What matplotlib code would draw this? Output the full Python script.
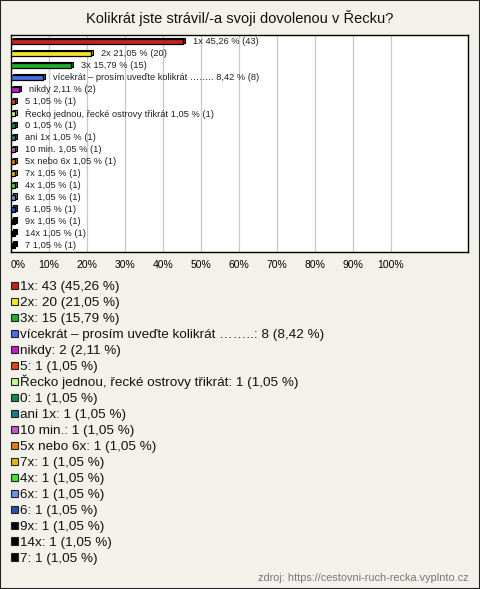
import matplotlib.pyplot as plt
from matplotlib.colors import to_rgb

labels = ['1x', '2x', '3x', 'vícekrát – prosím uveďte kolikrát ……..', 'nikdy', '5',
          'Řecko jednou, řecké ostrovy třikrát', '0', 'ani 1x', '10 min.', '5x nebo 6x',
          '7x', '4x', '6x', '6', '9x', '14x', '7']
counts = [43, 20, 15, 8, 2, 1, 1, 1, 1, 1, 1, 1, 1, 1, 1, 1, 1, 1]
percents = [45.26, 21.05, 15.79, 8.42, 2.11, 1.05, 1.05, 1.05, 1.05, 1.05, 1.05,
            1.05, 1.05, 1.05, 1.05, 1.05, 1.05, 1.05]
colors = ['#c0261a', '#f5e62c', '#1fae2a', '#4a6ee2', '#c41ccc', '#e2420e',
          '#c8f58a', '#118a52', '#1f7a8c', '#c25cc4', '#e57a10', '#e6b414',
          '#44e232', '#6a95e2', '#2452b4', '#000000', '#000000', '#000000']
xticks = [0, 10, 20, 30, 40, 50, 60, 70, 80, 90, 100]

bg = '#f3f2ea'
plt.rcParams['font.family'] = ['Liberation Sans', 'DejaVu Sans']

fig = plt.figure(figsize=(4.8, 5.89), dpi=100, facecolor=bg)
fig.patches.append(plt.Rectangle((0, 0), 1, 1, transform=fig.transFigure,
                                 fill=False, edgecolor='#222222', linewidth=1.5))

W, H = 480, 589
ax = fig.add_axes([11 / W, 1 - 252 / H, (468 - 11) / W, (252 - 35) / H])
ax.set_facecolor('white')
n = len(labels)
ys = list(range(n))


def darker(c, f=0.7):
    r, g, b = to_rgb(c)
    return (r * f, g * f, b * f)


def pct(p):
    return f'{p:.2f}'.replace('.', ',')


# back face (3D depth) then front face
ax.barh([y - 0.12 for y in ys], percents, left=0.5, height=0.42,
        color=[darker(c) for c in colors], edgecolor='black', linewidth=0.8, zorder=2)
ax.barh(ys, percents, height=0.42, color=colors, edgecolor='black',
        linewidth=0.9, zorder=3)

for y, lab, p, c in zip(ys, labels, percents, counts):
    ax.text(p + 2.6, y, f'{lab} {pct(p)} % ({c})',
            va='center', ha='left', fontsize=6.7, color='#222222', zorder=4)

ax.set_xlim(0, 120.3)
ax.set_ylim(n - 0.45, -0.55)
ax.set_xticks(xticks)
ax.set_xticklabels([f'{t}%' for t in xticks], fontsize=7.5)
ax.get_xticklabels()[0].set_horizontalalignment('left')
ax.set_yticks([])
ax.tick_params(axis='x', length=0, pad=6)
ax.grid(axis='x', color='#c8c8c8', linewidth=0.9, zorder=0)
ax.set_axisbelow(True)
for s in ax.spines.values():
    s.set_color('black')
    s.set_linewidth(1.0)

fig.text(0.5, 1 - 18 / H, 'Kolikrát jste strávil/-a svoji dovolenou v Řecku?',
         ha='center', va='center', fontsize=10.5, color='#111111')

# legend
for i, (lab, c, p, col) in enumerate(zip(labels, counts, percents, colors)):
    yc = 285.5 + i * 15.98
    fig.patches.append(plt.Rectangle((10.5 / W, 1 - (yc + 3.8) / H), 7.5 / W, 7.5 / H,
                                     transform=fig.transFigure, facecolor=col,
                                     edgecolor='#222222', linewidth=0.8))
    fig.text(20.5 / W, 1 - (yc + 4.8) / H, f'{lab}: {c} ({pct(p)} %)',
             ha='left', va='baseline', fontsize=9.7, color='#111111')

fig.text(469 / W, 1 - 578 / H, 'zdroj: https://cestovni-ruch-recka.vyplnto.cz',
         ha='right', va='center', fontsize=7.8, color='#777777')

fig.savefig('out.png', dpi=100, facecolor=bg)
